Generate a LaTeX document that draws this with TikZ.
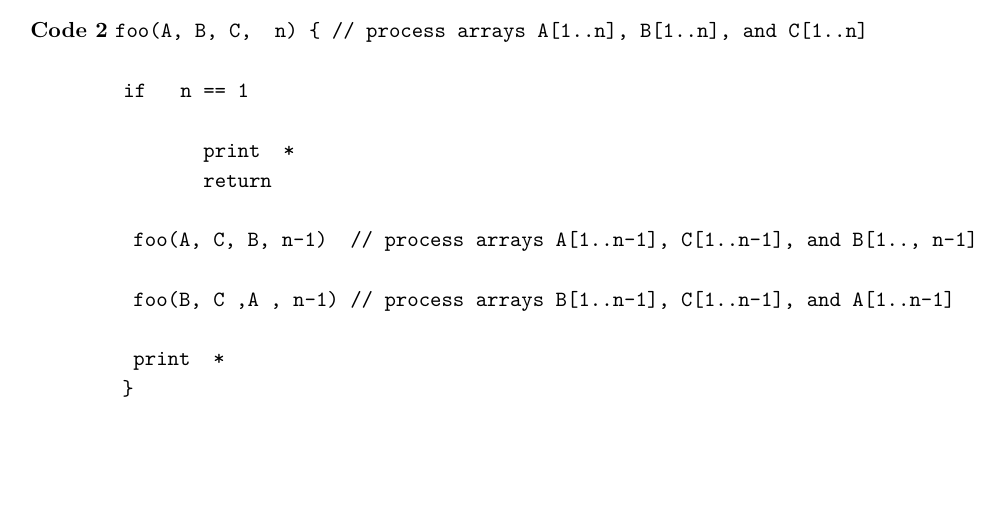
\documentclass[tikz,border=0pt]{standalone}
\begin{document}
\begin{tikzpicture}[x=0.46pt,y=-0.46pt,every node/.style={anchor=base west,inner sep=0pt,font=\ttfamily}]
\useasboundingbox (0,0) rectangle (1007,526);
\node (l1) at (30,37) {\rmfamily\textbf{Code 2} \ttfamily foo(A, B, C,\ \ n) \{ // process arrays A[1..n], B[1..n], and C[1..n]};
\node (l2) at (123,97) {if\ \ \ n == 1};
\node (l3) at (203,157) {print\ \ *};
\node (l4) at (203,187) {return};
\node (l5) at (133,246) {foo(A, C, B, n-1)\ \ // process arrays A[1..n-1], C[1..n-1], and B[1.., n-1]};
\node (l6) at (133,306) {foo(B, C ,A , n-1) // process arrays B[1..n-1], C[1..n-1], and A[1..n-1]};
\node (l7) at (133,365) {print\ \ *};
\node (l8) at (122,395) {\}};
\end{tikzpicture}
\end{document}
